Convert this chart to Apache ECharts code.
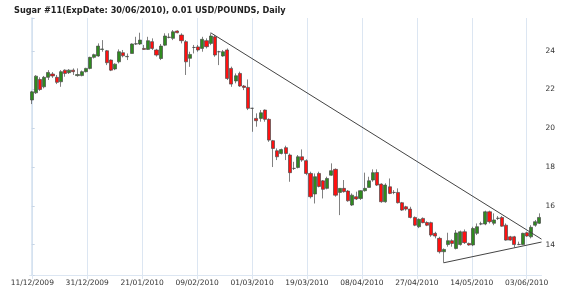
<!DOCTYPE html>
<html><head><meta charset="utf-8">
<script src="https://cdn.jsdelivr.net/npm/echarts@6/dist/echarts.min.js"></script>
<style>html,body{margin:0;padding:0;background:#fff}#c{width:570px;height:293px}</style>
</head><body><div id="c"></div>
<script>
const chartTitle = 'Sugar #11(ExpDate: 30/06/2010), 0.01 USD/POUNDS, Daily';
const tickLabels = ['11/12/2009','31/12/2009','21/01/2010','09/02/2010','01/03/2010','19/03/2010','08/04/2010','27/04/2010','14/05/2010','03/06/2010'];
const holidays = ['2009-12-25','2010-01-01','2010-01-18','2010-02-15','2010-04-02','2010-05-31'];

const opens = [21.46,21.83,22.52,22.14,22.63,22.80,22.63,22.40,23.00,22.87,23.00,22.72,22.72,22.92,23.09,23.66,23.73,24.07,24.00,23.52,23.06,23.43,23.90,23.69,23.86,24.35,24.35,24.12,24.07,24.47,24.04,
23.60,24.29,24.69,24.64,25.02,24.81,24.47,23.61,24.17,24.20,24.12,24.52,24.38,24.72,23.95,23.73,24.04,23.09,22.44,22.83,22.18,22.11,21.03,20.51,20.51,20.94,20.46,19.36,18.84,18.70,19.00,18.62,
17.93,17.98,18.53,18.33,17.67,16.61,17.67,17.29,16.90,17.58,17.88,16.69,16.90,16.76,16.04,16.47,16.38,16.78,16.95,17.33,17.72,17.12,16.21,16.98,16.69,16.69,16.16,15.95,15.83,15.40,
14.92,15.35,15.14,15.13,14.58,14.32,13.63,14.00,14.20,13.80,14.00,14.66,14.06,13.98,14.58,15.06,15.06,15.69,15.10,15.35,15.40,15.00,14.40,14.40,14.00,14.00,14.61,14.40,15.00,15.10];
const closes = [21.88,22.69,22.00,22.63,22.88,22.70,22.37,22.92,22.83,23.00,22.92,22.77,22.92,23.09,23.66,23.80,24.24,24.09,23.38,23.00,23.31,23.95,23.74,23.71,24.35,24.36,24.55,24.07,24.52,24.12,23.78,
24.24,24.76,24.70,24.98,24.93,24.52,23.43,23.81,24.17,24.04,24.59,24.21,24.76,23.78,23.95,23.95,22.57,22.28,22.71,22.18,22.11,21.03,21.03,20.39,20.80,20.46,19.39,18.96,18.53,18.90,18.70,17.71,
17.93,18.53,18.36,17.67,16.47,17.50,17.00,16.85,17.41,17.81,16.55,16.90,16.73,16.26,16.55,16.35,16.78,16.90,17.29,17.71,17.07,16.21,17.07,16.64,16.69,16.16,15.78,15.83,15.40,15.00,
15.30,15.13,15.00,14.49,14.44,13.63,13.75,14.20,14.06,14.60,14.66,14.10,13.98,14.83,14.92,15.07,15.69,15.18,15.27,15.36,14.95,14.23,14.23,14.00,14.01,14.58,14.44,14.89,15.18,15.40];
const lows = [21.25,21.77,21.93,22.06,22.49,22.60,22.28,22.14,22.66,22.80,22.75,22.66,22.68,22.88,23.04,23.60,23.69,23.95,23.26,22.95,23.00,23.35,23.66,23.52,23.86,24.30,24.30,24.04,24.04,24.04,23.70,
23.52,24.24,24.64,24.55,24.90,24.38,22.75,23.17,23.86,23.95,23.95,24.12,24.29,23.69,23.26,23.69,22.49,22.14,22.32,22.14,21.97,20.94,19.82,20.08,20.34,20.34,19.30,18.00,18.36,18.65,18.36,17.24,
17.85,17.93,18.27,17.58,16.38,16.12,16.95,16.38,16.85,17.55,16.47,15.52,16.68,16.21,15.99,16.30,16.30,16.73,16.95,17.24,17.02,16.16,16.16,16.60,16.60,16.12,15.74,15.75,15.35,14.95,
14.85,15.10,14.95,14.40,14.32,13.54,13.06,13.89,13.89,13.75,13.95,14.03,13.94,13.92,14.49,15.00,15.00,15.09,15.00,15.27,14.92,14.20,14.20,13.85,13.97,13.97,14.40,14.32,14.92,15.06];
const highs = [21.93,22.74,22.63,22.70,23.00,22.90,22.75,23.00,23.04,23.05,23.09,23.09,22.98,23.12,23.69,23.85,24.38,24.55,24.04,23.55,23.35,24.07,24.04,23.86,24.38,24.72,24.93,24.30,24.72,24.64,24.10,
24.35,24.90,24.90,25.07,25.05,24.90,24.55,23.95,24.30,24.30,24.72,24.64,24.90,24.81,24.00,24.04,24.12,23.18,22.83,22.92,22.23,22.52,21.06,20.77,20.94,20.97,20.51,19.40,18.96,18.95,19.10,18.70,
18.27,18.62,18.91,18.40,17.76,17.67,17.76,17.33,17.50,18.19,17.93,16.90,17.33,16.81,16.64,16.73,16.81,17.71,17.50,17.88,17.88,17.16,17.16,17.41,16.81,16.90,16.20,16.00,15.95,15.45,
15.35,15.40,15.20,15.18,14.66,14.40,13.80,14.61,14.27,14.75,14.72,14.78,14.10,14.92,15.09,15.18,15.75,15.75,15.61,15.47,15.47,15.09,14.45,14.45,14.15,14.61,14.66,15.00,15.27,15.61];

const resistance = [[43, 24.93], [122.5, 14.28]];
const support = [[99, 13.06], [122.5, 14.13]];

// trading-day categories
const dates = [];
(function(){
  let d = new Date(Date.UTC(2009, 11, 11));
  while (dates.length < opens.length) {
    const wd = d.getUTCDay();
    const iso = d.toISOString().slice(0,10);
    if (wd !== 0 && wd !== 6 && holidays.indexOf(iso) < 0) {
      dates.push(iso.slice(8,10) + '/' + iso.slice(5,7) + '/' + iso.slice(0,4));
    }
    d = new Date(d.getTime() + 86400000);
  }
})();
const candles = opens.map((o, i) => [o, closes[i], lows[i], highs[i]]);

const gridCol = '#dce6f2';
const chart = echarts.init(document.getElementById('c'), null, {renderer: 'canvas'});
chart.setOption({
  animation: false,
  backgroundColor: '#fff',
  title: {
    text: chartTitle, left: 9, top: 2,
    textStyle: {fontFamily: 'DejaVu Sans', fontSize: 8.2, fontWeight: 'bold', color: '#222'}
  },
  grid: [
    {left: 29.6, right: 28.5, top: 18, bottom: 18},
    {left: 32.3, right: 43.3, top: 18, bottom: 18}
  ],
  xAxis: [
    {type: 'category', gridIndex: 0, data: dates, boundaryGap: true,
     axisLine: {show: true, lineStyle: {color: gridCol, width: 1}},
     axisTick: {show: false}, axisLabel: {show: false}, splitLine: {show: false}},
    {type: 'value', gridIndex: 1, min: 0, max: tickLabels.length - 1, interval: 1,
     axisLine: {show: false},
     axisTick: {show: true, length: 4, lineStyle: {color: gridCol}},
     axisLabel: {show: true, margin: 4, fontFamily: 'DejaVu Sans', fontSize: 7.5, color: '#333',
       formatter: v => tickLabels[Math.round(v)] || ''},
     splitLine: {show: true, lineStyle: {color: gridCol, width: 1}}},
    {type: 'value', gridIndex: 0, min: -0.5, max: opens.length - 0.5, show: false}
  ],
  yAxis: [
    {type: 'value', gridIndex: 0, position: 'right', min: 12.43, max: 25.69, splitNumber: 6,
     axisLine: {show: true, lineStyle: {color: '#d3e0ef', width: 1.5}},
     axisTick: {show: true, length: 3, lineStyle: {color: '#c8d6e6'}},
     axisLabel: {margin: 4, fontFamily: 'DejaVu Sans', fontSize: 7.5, color: '#333',
       formatter: v => (Math.abs(v - Math.round(v)) < 1e-6 && Math.round(v) % 2 === 0) ? String(Math.round(v)) : ''},
     splitLine: {show: false}},
    {type: 'value', gridIndex: 1, min: 0, max: 1, show: false}
  ],
  series: [
    {type: 'candlestick', xAxisIndex: 0, yAxisIndex: 0, data: candles, barWidth: 3.6,
     itemStyle: {color: '#2f8a1f', color0: '#ff1010', borderColor: '#4a4a4a', borderColor0: '#4a4a4a', borderWidth: 0.7}},
    {type: 'line', xAxisIndex: 2, yAxisIndex: 0, data: resistance, symbol: 'none', silent: true,
     lineStyle: {color: '#444', width: 1}},
    {type: 'line', xAxisIndex: 2, yAxisIndex: 0, data: support, symbol: 'none', silent: true,
     lineStyle: {color: '#444', width: 1}}
  ]
});
</script>
</body></html>
